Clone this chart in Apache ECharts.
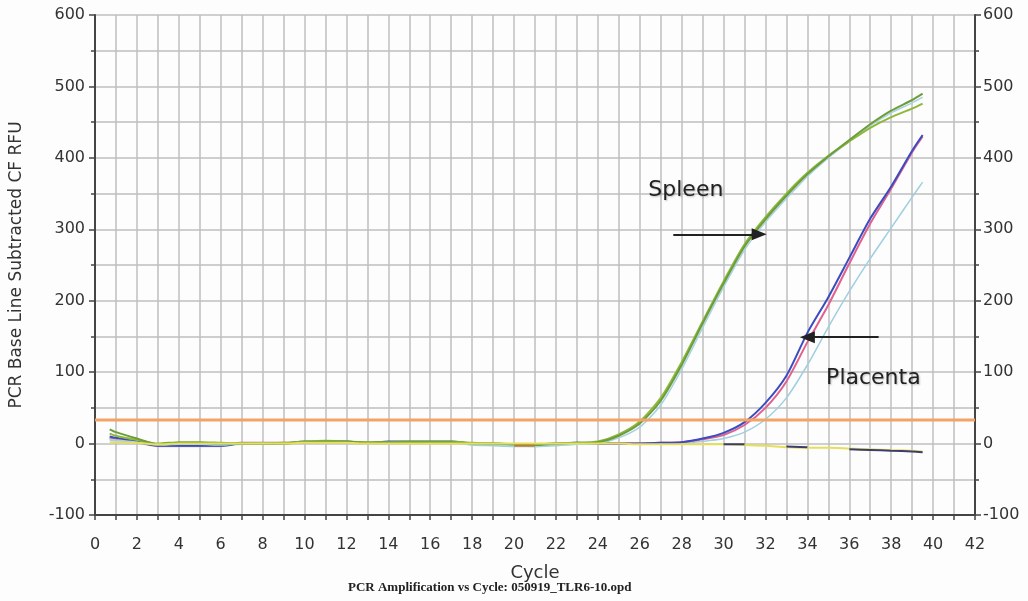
<!DOCTYPE html>
<html>
<head>
<meta charset="utf-8">
<script src="https://cdn.jsdelivr.net/npm/echarts@6/dist/echarts.min.js"></script>
<style>
  html, body { margin: 0; padding: 0; background: #fdfdfd; }
  #chart { width: 1028px; height: 601px; }
</style>
</head>
<body>
<div id="chart"></div>
<script>
// cycle positions of the readings
var cycles = [0.7, 1, 2, 3, 4, 5, 6, 7, 8, 9, 10, 11, 12, 13, 14, 15, 16, 17, 18, 19, 20,
  21, 22, 23, 24, 25, 26, 27, 28, 29, 30, 31, 32, 33, 34, 35, 36, 37, 38, 39, 39.5];

// spleen samples
var spleenA = [20, 16, 7, -1, 1, 1, 0, 0, 0, 0, 2, 3, 3, 1, 2, 2, 2, 2, 0, 0, -1,
  -2, 0, 1, 2, 11, 28, 60, 110, 168, 224, 276, 314, 347, 377, 402, 425, 447, 466, 481, 490];
var spleenB = [14, 11, 5, 0, 2, 2, 1, 0, 0, 1, 3, 4, 3, 2, 2, 3, 3, 3, 1, 0, -1,
  -1, 0, 1, 3, 13, 31, 64, 114, 171, 227, 279, 317, 350, 379, 403, 423, 442, 457, 469, 476];
var spleenC = [6, 5, 2, -2, -1, -1, -2, 0, 1, 0, 1, 1, 1, 0, 1, 1, 1, 1, -1, -2, -3,
  -4, -2, -1, 0, 8, 23, 54, 104, 162, 219, 271, 310, 343, 374, 400, 423, 445, 463, 477, 485];

// placenta samples
var placentaA = [10, 8, 3, -3, -3, -3, -3, 0, 0, 0, 3, 3, 3, 1, 3, 3, 3, 3, 0, 0, -1,
  -1, 0, 1, 0, 0, 0, 1, 2, 7, 15, 30, 57, 95, 155, 205, 260, 315, 360, 410, 432];
var placentaB = [8, 6, 2, -3, -3, -3, -3, 1, 1, 1, 2, 2, 2, 1, 2, 2, 2, 2, 0, -1, -1,
  -2, -1, 0, 0, 0, 0, 1, 2, 6, 12, 26, 50, 87, 142, 194, 252, 308, 357, 408, 430];
var placentaC = [5, 4, 1, -4, -4, -4, -4, -1, -1, -1, 1, 1, 1, 0, 1, 1, 1, 1, -2, -3, -4,
  -4, -3, -1, -1, -1, 0, 0, 1, 3, 7, 16, 34, 64, 110, 163, 213, 259, 302, 345, 366];

// no-template controls
var controlYellow = [2, 2, 1, -1, 0, 0, 0, 0, 0, 0, 1, 1, 1, 0, 0, 0, 0, 0, 0, 0, 0,
  0, 0, 0, 0, 0, -1, -1, -1, -1, -1, -2, -3, -5, -6, -6, -7, -8, -9, -10, -11];
var controlNavy = [null, null, null, null, null, null, null, null, null, null, null, null, null, null, null, null, null, null, null, null, null,
  null, null, null, null, null, null, null, null, null, -1, -1, null, -4, -5, null, -8, -9, -10, -11, -12];
var controlBrown = [null, null, null, null, null, null, null, null, null, null, null, null, null, null, null, null, null, null, null, null, -3,
  -3, null, null, null, null, null, null, null, null, null, null, null, null, null, null, null, null, null, null, null];

// threshold line
var thresholdCycles = [0, 42];
var thresholdRFU = [33, 33];

// annotations
var spleenArrow = [[27.6, 293], [31.7, 293]];
var placentaArrow = [[37.4, 149], [34.0, 149]];
var spleenLabel = [28.2, 355];
var placentaLabel = [37.15, 92];

function pairs(xs, ys) {
  return xs.map(function (x, i) { return [x, ys[i]]; });
}

function curve(name, values, color, width) {
  return {
    name: name,
    type: 'line',
    data: pairs(cycles, values),
    showSymbol: false,
    smooth: 0.25,
    lineStyle: { color: color, width: width || 2 },
    itemStyle: { color: color },
    silent: true
  };
}

var chart = echarts.init(document.getElementById('chart'));

var gridLine = { show: true, lineStyle: { color: '#bfbfbf', width: 1.5 } };
var axisText = { color: '#333', fontFamily: 'DejaVu Sans', fontSize: 16 };

var arrowStyle = { color: '#222', width: 2, type: 'solid' };

var series = [
  curve('Placenta C', placentaC, '#9fcfe0', 1.5),
  curve('Placenta B', placentaB, '#e0608f', 2),
  curve('Placenta A', placentaA, '#3a4cc0', 2),
  curve('Spleen C', spleenC, '#a8d2e4', 1.5),
  curve('Spleen B', spleenB, '#8fb83a', 2),
  curve('Spleen A', spleenA, '#6b9e3a', 2),
  curve('Control yellow', controlYellow, '#e6df5c', 2),
  curve('Control navy', controlNavy, '#3c3c6e', 2),
  curve('Control brown', controlBrown, '#c07a30', 2),
  {
    name: 'Threshold',
    type: 'line',
    data: pairs(thresholdCycles, thresholdRFU),
    showSymbol: false,
    lineStyle: { color: '#f2a468', width: 3 },
    silent: true,
    markLine: {
      silent: true,
      animation: false,
      label: { show: false },
      lineStyle: arrowStyle,
      symbolSize: [12, 15],
      data: [
        [{ coord: spleenArrow[0], symbol: 'none' }, { coord: spleenArrow[1], symbol: 'triangle' }],
        [{ coord: placentaArrow[0], symbol: 'none' }, { coord: placentaArrow[1], symbol: 'triangle' }]
      ]
    },
    markPoint: {
      silent: true,
      animation: false,
      symbol: 'rect',
      symbolSize: 1,
      itemStyle: { color: 'rgba(0,0,0,0)' },
      label: {
        show: true,
        position: 'inside',
        color: '#222',
        fontFamily: 'DejaVu Sans',
        fontSize: 22,
        textShadowColor: 'rgba(0,0,0,0.25)',
        textShadowBlur: 2,
        textShadowOffsetX: 1,
        textShadowOffsetY: 1
      },
      data: [
        { coord: spleenLabel, label: { formatter: 'Spleen' } },
        { coord: placentaLabel, label: { formatter: 'Placenta' } }
      ]
    }
  }
];

chart.setOption({
  backgroundColor: '#fdfdfd',
  animation: false,
  title: {
    text: 'PCR Amplification vs Cycle: 050919_TLR6-10.opd',
    left: 343,
    top: 576,
    textStyle: {
      fontFamily: 'Liberation Serif',
      fontWeight: 'bold',
      fontSize: 13,
      color: '#222'
    }
  },
  grid: { left: 92, right: 53, top: 15, bottom: 86 },
  xAxis: {
    type: 'value',
    min: 0,
    max: 42,
    interval: 2,
    name: 'Cycle',
    nameLocation: 'middle',
    nameGap: 49,
    nameTextStyle: { color: '#333', fontFamily: 'DejaVu Sans', fontSize: 18 },
    axisLine: { show: true, onZero: false, lineStyle: { color: '#444', width: 2 } },
    axisTick: { show: true, length: 5, lineStyle: { color: '#444', width: 1.5 } },
    minorTick: { show: true, splitNumber: 2, length: 5, lineStyle: { color: '#444', width: 1.5 } },
    axisLabel: Object.assign({ margin: 22 }, axisText),
    splitLine: gridLine,
    minorSplitLine: gridLine
  },
  yAxis: [
    {
      type: 'value',
      min: -100,
      max: 600,
      interval: 100,
      name: 'PCR Base Line Subtracted CF RFU',
      nameLocation: 'middle',
      nameGap: 70,
      nameTextStyle: { color: '#333', fontFamily: 'DejaVu Sans', fontSize: 17 },
      axisLine: { show: true, onZero: false, lineStyle: { color: '#444', width: 2 } },
      axisTick: { show: true, length: 6, lineStyle: { color: '#444', width: 1.5 } },
      minorTick: { show: true, splitNumber: 2, length: 4, lineStyle: { color: '#444', width: 1.5 } },
      axisLabel: Object.assign({ margin: 10 }, axisText),
      splitLine: gridLine,
      minorSplitLine: gridLine
    },
    {
      type: 'value',
      position: 'right',
      min: -100,
      max: 600,
      interval: 100,
      axisLine: { show: true, onZero: false, lineStyle: { color: '#444', width: 2 } },
      axisTick: { show: true, length: 6, lineStyle: { color: '#444', width: 1.5 } },
      minorTick: { show: true, splitNumber: 2, length: 4, lineStyle: { color: '#444', width: 1.5 } },
      axisLabel: Object.assign({ margin: 8 }, axisText),
      splitLine: { show: false }
    }
  ],
  series: series
});
</script>
</body>
</html>
